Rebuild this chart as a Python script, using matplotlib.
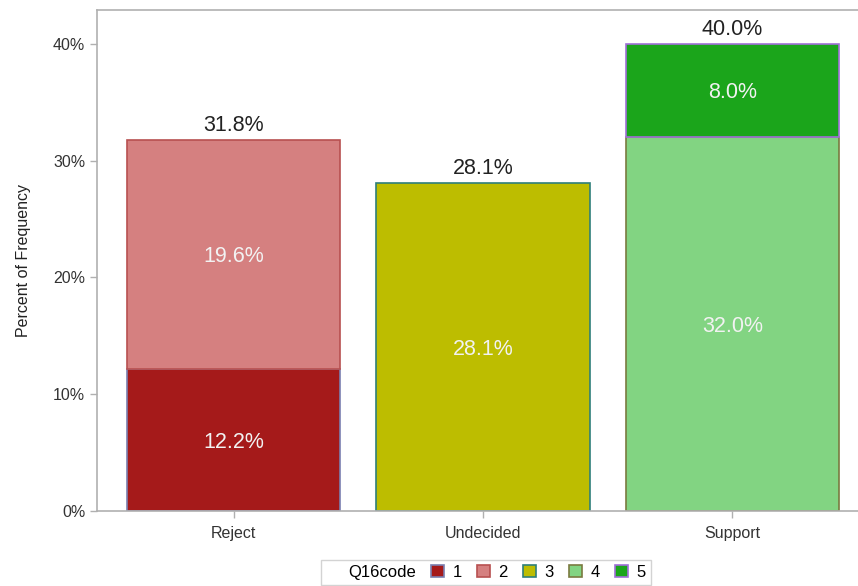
import matplotlib.pyplot as plt
from matplotlib.patches import Patch
import numpy as np

plt.rcParams['font.family'] = ['Liberation Sans', 'DejaVu Sans']

categories = ["Reject", "Undecided", "Support"]
codes = ["1", "2", "3", "4", "5"]
# percent of frequency per code, one value per category
code1 = [12.2, 0.0, 0.0]
code2 = [19.6, 0.0, 0.0]
code3 = [0.0, 28.1, 0.0]
code4 = [0.0, 0.0, 32.0]
code5 = [0.0, 0.0, 8.0]
series = [code1, code2, code3, code4, code5]
totals = [31.8, 28.1, 40.0]

fills = ["#A51A1A", "#D58080", "#BDBD00", "#82D482", "#1BA51B"]
edges = ["#7A7FB0", "#B85050", "#2F7F7A", "#7A7A40", "#A070D8"]

fig = plt.figure(figsize=(8.58, 5.86), dpi=100)
ax = fig.add_axes([97/858, 1 - 511/586, 1 - 97/858, (511 - 10)/586])

x = np.arange(len(categories))
bar_width = 0.855
bottom = np.zeros(len(categories))
for vals, fc, ec in zip(series, fills, edges):
    vals = np.array(vals)
    mask = vals > 0
    ax.bar(x[mask], vals[mask], bottom=bottom[mask], width=bar_width,
           color=fc, edgecolor=ec, linewidth=1.2, zorder=2)
    for xi, v, b in zip(x[mask], vals[mask], bottom[mask]):
        ax.text(xi, b + v / 2 - 0.2, f"{v:.1f}%", ha="center", va="center",
                fontsize=15.5, color="#F2F2F2", zorder=3)
    bottom += vals

for xi, t in zip(x, totals):
    ax.text(xi, t + 0.3, f"{t:.1f}%", ha="center", va="bottom",
            fontsize=15.5, color="#222222")

ax.set_xlim(-0.548, 2.504)
ax.set_ylim(0, 42.9)
ax.set_yticks([0, 10, 20, 30, 40])
ax.set_yticklabels(["0%", "10%", "20%", "30%", "40%"])
ax.set_xticks(x)
ax.set_xticklabels(categories)
ax.set_ylabel("Percent of Frequency", fontsize=11.5, color="#222222", labelpad=16)
ax.tick_params(axis="both", colors="#B0B0B0", labelcolor="#333333",
               labelsize=11.5, length=5, width=1)
ax.tick_params(axis="x", pad=6)
for side in ["left", "bottom", "top"]:
    ax.spines[side].set_color("#B0B0B0")
    ax.spines[side].set_linewidth(1.2)
ax.spines["right"].set_visible(False)

handles = [Patch(facecolor="none", edgecolor="none")]
handles += [Patch(facecolor=fc, edgecolor=ec, linewidth=1.2) for fc, ec in zip(fills, edges)]
labels = ["Q16code"] + codes
leg = fig.legend(handles, labels, loc="lower center", bbox_to_anchor=(486/858, -0.012),
                 ncol=6, fontsize=12, frameon=True, fancybox=False,
                 handlelength=0.8, handleheight=0.8, handletextpad=0.5,
                 columnspacing=0.9, borderpad=0.3)
leg.get_frame().set_edgecolor("#C8C8C8")
leg.get_frame().set_linewidth(1)

plt.savefig("out.png", dpi=100)
